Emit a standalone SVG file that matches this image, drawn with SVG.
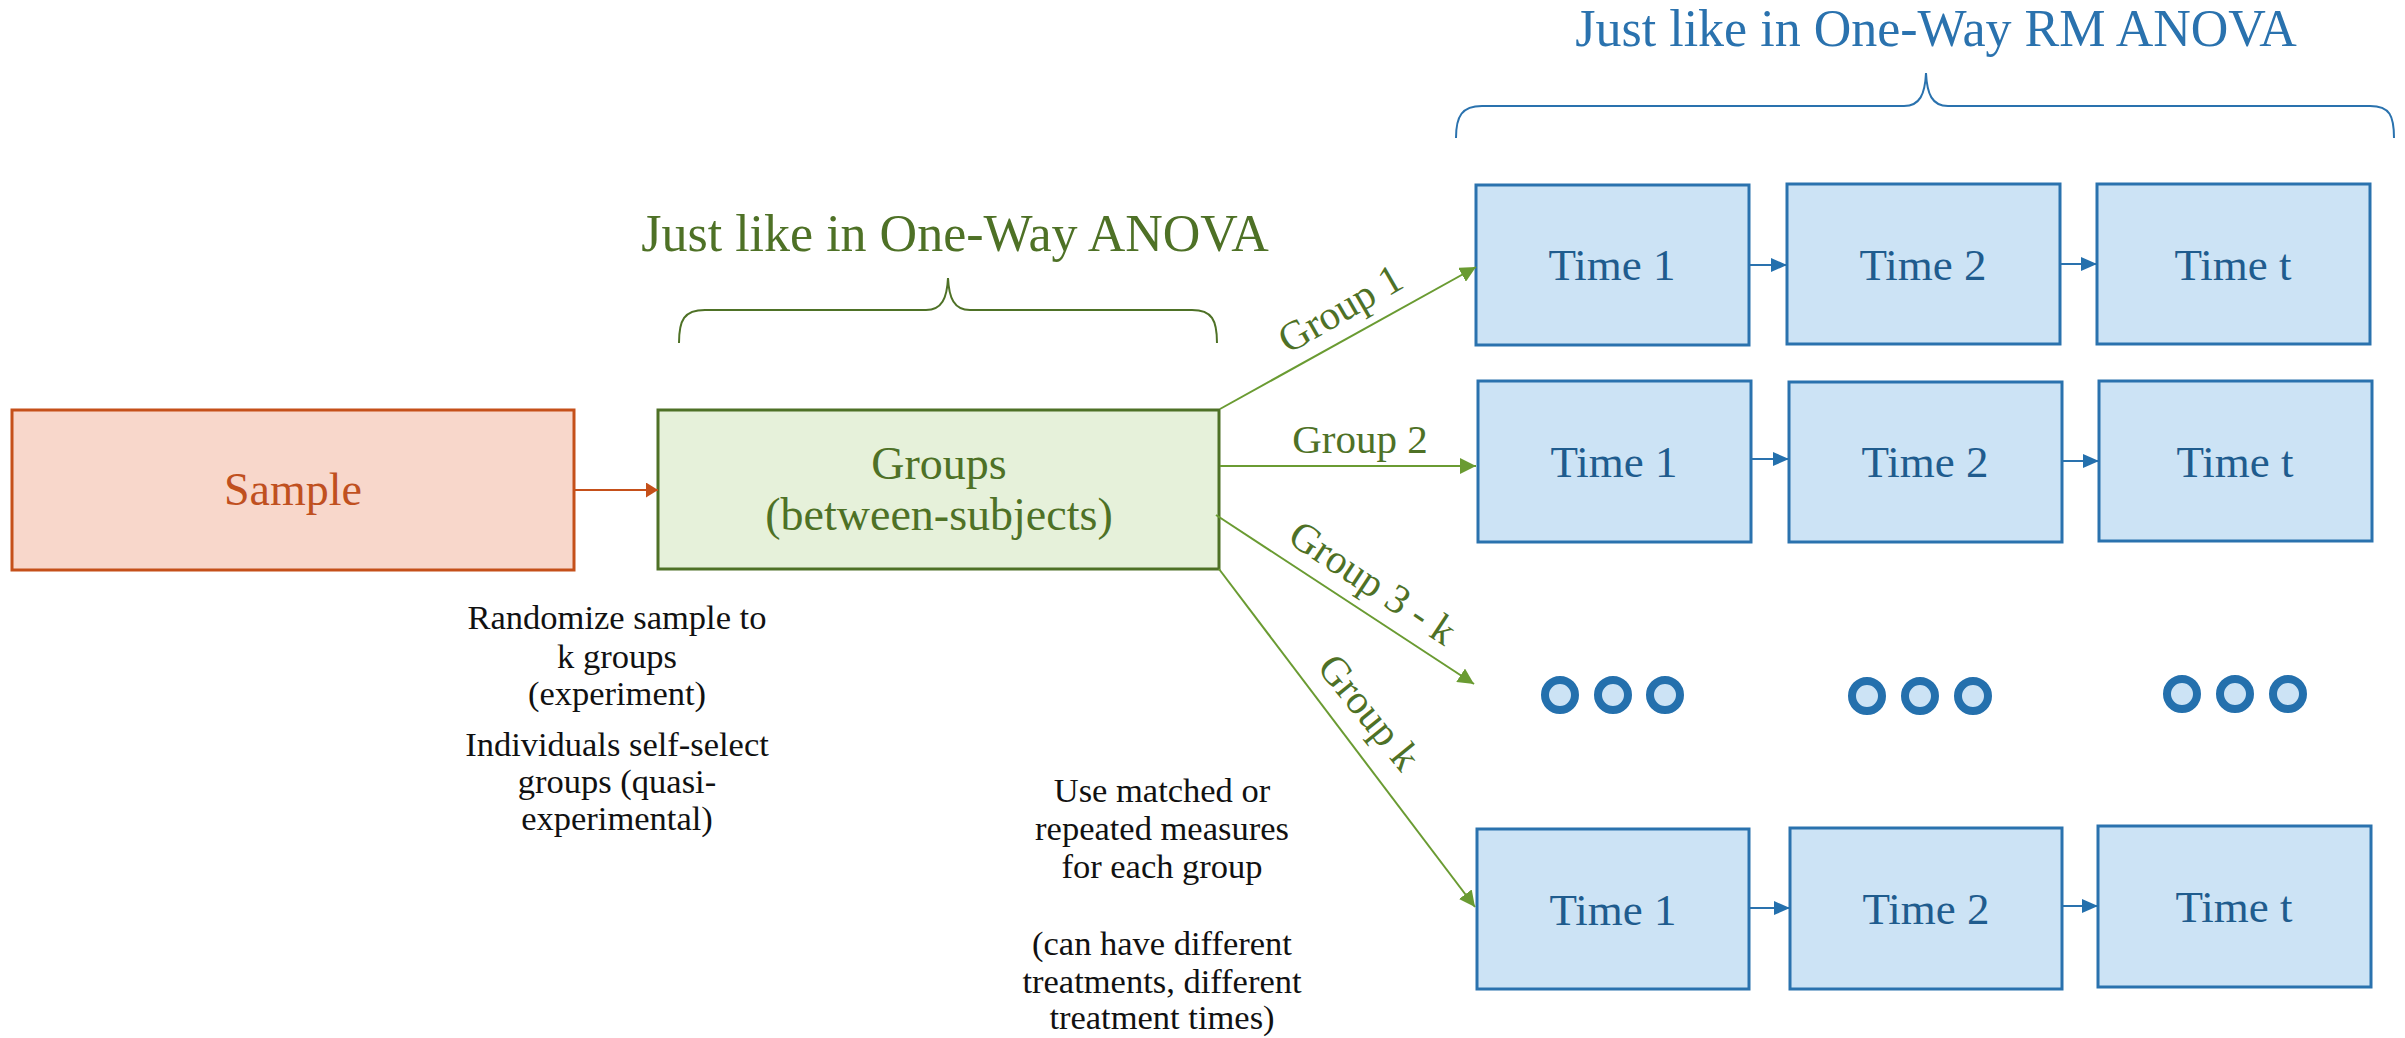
<svg xmlns="http://www.w3.org/2000/svg" width="2405" height="1038" viewBox="0 0 2405 1038">
<style>
text{font-family:"Liberation Serif","Times New Roman",serif;}
.sample{fill:#F8D7CB;stroke:#C5501A;stroke-width:3;}
.sampletxt{fill:#C0501F;font-size:46px;text-anchor:middle;}
.groups{fill:#E6F1DA;stroke:#4E7126;stroke-width:3;}
.gtxt{fill:#4E7126;text-anchor:middle;}
.time{fill:#CCE3F5;stroke:#2A72AE;stroke-width:3;}
.ttxt{fill:#1F5C8E;font-size:45px;text-anchor:middle;}
.dot{fill:#CCE3F5;stroke:#2470AD;stroke-width:8;}
.note{fill:#111;font-size:34.5px;text-anchor:middle;}
.gline{stroke:#6A9B32;stroke-width:2;fill:none;}
.bline{stroke:#2A72AE;stroke-width:2;fill:none;}
.oline{stroke:#C5501A;stroke-width:2;fill:none;}
.glabel{fill:#4E7126;font-size:41px;text-anchor:middle;}
</style>
<defs>
<marker id="ag" markerUnits="userSpaceOnUse" markerWidth="18" markerHeight="16" refX="16" refY="8" orient="auto"><path d="M0,0 L16,8 L0,16 Z" fill="#6A9B32"/></marker>
<marker id="ab" markerUnits="userSpaceOnUse" markerWidth="18" markerHeight="16" refX="16" refY="7" orient="auto"><path d="M0,0 L16,7 L0,14 Z" fill="#2470AD"/></marker>
<marker id="ao" markerUnits="userSpaceOnUse" markerWidth="14" markerHeight="16" refX="12" refY="7.5" orient="auto"><path d="M0,0 L12,7.5 L0,15 Z" fill="#C5501A"/></marker>
</defs>
<rect width="2405" height="1038" fill="#FFFFFF"/>

<g id="title-anova">
<text x="955" y="251" class="gtxt" style="font-size:52px">Just like in One-Way ANOVA</text>
<path d="M679,343 C679,320 684,310 705,310 L926,310 C942,310 947,298 948,278 C949,298 954,310 970,310 L1192,310 C1212,310 1217,320 1217,343" fill="none" stroke="#4E7126" stroke-width="2"/>
</g>
<g id="title-rm">
<text x="1936" y="46" style="font-size:52px;fill:#2A72AE;text-anchor:middle">Just like in One-Way RM ANOVA</text>
<path d="M1456,138 C1456,116 1462,106 1482,106 L1904,106 C1920,106 1925,94 1926,73 C1927,94 1932,106 1948,106 L2370,106 C2390,106 2394,116 2394,138" fill="none" stroke="#2A72AE" stroke-width="2"/>
</g>

<g id="sample">
<rect class="sample" x="12" y="410" width="562" height="160"/>
<text class="sampletxt" x="293" y="505">Sample</text>
</g>
<g id="groups">
<rect class="groups" x="658" y="410" width="561" height="159"/>
<text class="gtxt" x="939" y="479" style="font-size:46px">Groups</text>
<text class="gtxt" x="939" y="530" style="font-size:46px">(between-subjects)</text>
</g>

<g id="note-randomize">
<text class="note" x="617" y="629">Randomize sample to</text>
<text class="note" x="617" y="668">k groups</text>
<text class="note" x="617" y="705">(experiment)</text>
<text class="note" x="617" y="756">Individuals self-select</text>
<text class="note" x="617" y="793">groups (quasi-</text>
<text class="note" x="617" y="830">experimental)</text>
</g>
<g id="note-matched">
<text class="note" x="1162" y="802">Use matched or</text>
<text class="note" x="1162" y="840">repeated measures</text>
<text class="note" x="1162" y="878">for each group</text>
<text class="note" x="1162" y="955">(can have different</text>
<text class="note" x="1162" y="993">treatments, different</text>
<text class="note" x="1162" y="1029">treatment times)</text>
</g>

<g id="row1-time1"><rect class="time" x="1476" y="185" width="273" height="160"/><text class="ttxt" x="1612" y="280">Time 1</text></g>
<g id="row1-time2"><rect class="time" x="1787" y="184" width="273" height="160"/><text class="ttxt" x="1923" y="280">Time 2</text></g>
<g id="row1-timet"><rect class="time" x="2097" y="184" width="273" height="160"/><text class="ttxt" x="2233" y="280">Time t</text></g>

<g id="row2-time1"><rect class="time" x="1478" y="381" width="273" height="161"/><text class="ttxt" x="1614" y="477">Time 1</text></g>
<g id="row2-time2"><rect class="time" x="1789" y="382" width="273" height="160"/><text class="ttxt" x="1925" y="477">Time 2</text></g>
<g id="row2-timet"><rect class="time" x="2099" y="381" width="273" height="160"/><text class="ttxt" x="2235" y="477">Time t</text></g>

<g id="ellipsis-1"><circle class="dot" cx="1560" cy="695" r="15"/><circle class="dot" cx="1613" cy="695" r="15"/><circle class="dot" cx="1665" cy="695" r="15"/></g>
<g id="ellipsis-2"><circle class="dot" cx="1867" cy="696" r="15"/><circle class="dot" cx="1920" cy="696" r="15"/><circle class="dot" cx="1973" cy="696" r="15"/></g>
<g id="ellipsis-3"><circle class="dot" cx="2182" cy="694" r="15"/><circle class="dot" cx="2235" cy="694" r="15"/><circle class="dot" cx="2288" cy="694" r="15"/></g>

<g id="rowk-time1"><rect class="time" x="1477" y="829" width="272" height="160"/><text class="ttxt" x="1613" y="925">Time 1</text></g>
<g id="rowk-time2"><rect class="time" x="1790" y="828" width="272" height="161"/><text class="ttxt" x="1926" y="924">Time 2</text></g>
<g id="rowk-timet"><rect class="time" x="2098" y="826" width="273" height="161"/><text class="ttxt" x="2234" y="922">Time t</text></g>

<g id="connectors">
<line class="oline" x1="574" y1="490" x2="658" y2="490" marker-end="url(#ao)"/>
<line class="gline" x1="1220" y1="409" x2="1476" y2="267" marker-end="url(#ag)"/>
<line class="gline" x1="1220" y1="466" x2="1476" y2="466" marker-end="url(#ag)"/>
<line class="gline" x1="1216" y1="515" x2="1474" y2="684" marker-end="url(#ag)"/>
<line class="gline" x1="1219" y1="569" x2="1475" y2="907" marker-end="url(#ag)"/>
<line class="bline" x1="1750" y1="265" x2="1787" y2="265" marker-end="url(#ab)"/>
<line class="bline" x1="2061" y1="264" x2="2097" y2="264" marker-end="url(#ab)"/>
<line class="bline" x1="1752" y1="459" x2="1789" y2="459" marker-end="url(#ab)"/>
<line class="bline" x1="2063" y1="461" x2="2099" y2="461" marker-end="url(#ab)"/>
<line class="bline" x1="1750" y1="908" x2="1790" y2="908" marker-end="url(#ab)"/>
<line class="bline" x1="2063" y1="906" x2="2098" y2="906" marker-end="url(#ab)"/>
<text class="glabel" transform="translate(1341,310) rotate(-30)" y="12">Group 1</text>
<text class="glabel" x="1360" y="453">Group 2</text>
<text class="glabel" transform="translate(1372,584) rotate(33.5)" y="12">Group 3 - k</text>
<text class="glabel" transform="translate(1368,713) rotate(51)" y="12">Group k</text>
</g>
</svg>
